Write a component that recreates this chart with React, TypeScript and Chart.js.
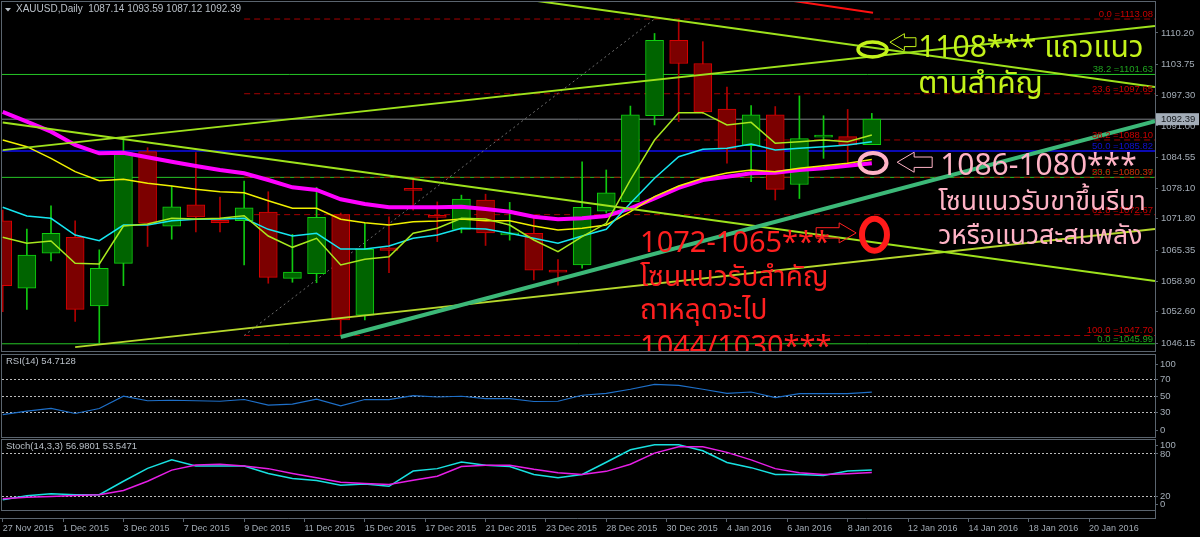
import React, { useEffect, useRef } from 'react';
import { Chart, registerables } from 'chart.js';

Chart.register(...registerables);

// ---------------- DATA ----------------
const symbolTitle = 'XAUUSD,Daily';
const lastBarOHLC = [1087.14, 1093.59, 1087.12, 1092.39];

const timeLabels = [
  '27 Nov 2015', '1 Dec 2015', '3 Dec 2015', '7 Dec 2015', '9 Dec 2015', '11 Dec 2015',
  '15 Dec 2015', '17 Dec 2015', '21 Dec 2015', '23 Dec 2015', '28 Dec 2015', '30 Dec 2015',
  '4 Jan 2016', '6 Jan 2016', '8 Jan 2016', '12 Jan 2016', '14 Jan 2016', '18 Jan 2016', '20 Jan 2016',
];
const barsPerTimeLabel = 2.5;

const opens = [1071.4, 1057.5, 1064.7, 1068.0, 1053.8, 1062.6, 1085.7, 1070.3, 1074.7, 1071.5, 1071.4, 1073.2, 1059.5, 1060.5, 1072.7, 1051.9, 1065.8, 1077.9, 1072.3, 1069.6, 1075.7, 1068.5, 1068.8, 1061.0, 1062.3, 1073.4, 1075.3, 1093.1, 1108.7, 1103.9, 1094.5, 1086.9, 1093.3, 1078.9, 1088.7, 1088.8, 1087.14];
const highs = [1073.6, 1069.7, 1074.5, 1071.4, 1065.4, 1088.6, 1086.5, 1078.6, 1085.5, 1076.3, 1079.6, 1077.4, 1068.6, 1078.3, 1073.0, 1070.9, 1072.2, 1080.2, 1075.3, 1076.7, 1076.9, 1075.2, 1071.9, 1063.4, 1083.6, 1081.9, 1095.1, 1110.1, 1113.08, 1108.4, 1099.0, 1095.2, 1095.0, 1097.2, 1093.1, 1094.4, 1093.59];
const lows = [1052.6, 1053.1, 1063.1, 1050.6, 1046.1, 1058.0, 1066.1, 1067.6, 1069.1, 1069.1, 1062.3, 1058.5, 1058.7, 1058.6, 1047.7, 1050.9, 1060.7, 1073.6, 1067.1, 1068.9, 1066.3, 1067.4, 1059.2, 1058.1, 1061.6, 1073.0, 1075.0, 1091.2, 1091.9, 1093.5, 1083.3, 1079.5, 1075.7, 1076.0, 1084.3, 1083.3, 1087.12];
const closes = [1058.0, 1064.3, 1068.8, 1053.1, 1061.6, 1085.5, 1070.9, 1074.3, 1072.2, 1071.0, 1074.1, 1059.7, 1060.8, 1072.1, 1050.9, 1065.5, 1065.3, 1077.7, 1072.1, 1075.9, 1068.9, 1068.7, 1061.2, 1060.8, 1074.2, 1077.2, 1093.3, 1108.7, 1103.9, 1093.9, 1086.2, 1093.3, 1077.9, 1088.4, 1088.9, 1087.1, 1092.39];

const maFast = [1068.0, 1066.75, 1067.22, 1062.62, 1062.47, 1070.32, 1070.74, 1071.91, 1071.77, 1071.91, 1072.45, 1068.26, 1065.92, 1067.78, 1062.27, 1063.44, 1063.98, 1068.82, 1069.85, 1071.91, 1071.77, 1070.53, 1067.43, 1065.01, 1068.11, 1070.88, 1079.83, 1088.09, 1093.73, 1093.73, 1091.19, 1091.74, 1087.41, 1087.74, 1088.09, 1087.74, 1089.13];
const maCyan = [1074.19, 1072.39, 1071.91, 1068.46, 1067.29, 1070.53, 1070.53, 1071.42, 1071.71, 1071.77, 1071.91, 1069.64, 1068.26, 1068.82, 1065.57, 1065.57, 1066.19, 1067.78, 1068.46, 1069.85, 1069.70, 1068.82, 1067.78, 1066.75, 1068.26, 1069.64, 1075.02, 1080.18, 1084.64, 1086.17, 1086.38, 1087.27, 1086.03, 1086.38, 1086.71, 1087.06, 1087.74];
const maYellow = [1088.09, 1086.71, 1084.31, 1081.55, 1079.69, 1079.97, 1079.15, 1078.59, 1077.91, 1077.41, 1077.21, 1075.55, 1073.98, 1073.98, 1071.71, 1071.01, 1070.53, 1071.21, 1071.36, 1071.77, 1071.42, 1071.42, 1070.32, 1069.50, 1069.85, 1070.53, 1073.28, 1076.38, 1078.59, 1080.18, 1081.28, 1081.90, 1081.54, 1082.25, 1082.78, 1083.28, 1084.06];
const maMagenta = [1093.88, 1091.87, 1089.81, 1087.06, 1085.34, 1085.47, 1084.52, 1083.61, 1082.72, 1081.89, 1081.21, 1079.83, 1078.32, 1077.76, 1075.84, 1074.87, 1074.19, 1074.19, 1074.19, 1074.31, 1073.84, 1073.28, 1072.25, 1071.71, 1071.92, 1072.39, 1073.98, 1076.05, 1078.18, 1079.83, 1080.51, 1081.21, 1081.34, 1081.89, 1082.25, 1082.78, 1083.28];

const rsiValues = [27.3, 31.5, 34.8, 28.7, 34.8, 49.7, 44.2, 44.8, 44.2, 43.6, 45.7, 38.8, 40.0, 46.1, 37.9, 45.7, 45.7, 50.5, 48.8, 49.7, 46.9, 46.9, 43.3, 43.6, 50.9, 53.3, 58.2, 64.2, 63.0, 58.2, 53.3, 54.9, 48.1, 53.0, 53.0, 53.0, 54.7128];
const stochMain = [14.5, 20.3, 23.2, 21.8, 21.8, 41.1, 59.5, 71.6, 62.8, 62.8, 62.8, 52.2, 45.0, 42.1, 35.3, 37.3, 33.8, 55.6, 59.1, 68.7, 63.9, 62.0, 50.8, 46.0, 50.8, 68.2, 86.1, 93.3, 93.3, 84.6, 67.8, 60.5, 50.8, 50.8, 49.3, 55.6, 56.9801];
const stochSignal = [16.0, 18.1, 19.3, 20.8, 21.8, 28.0, 41.1, 57.0, 64.3, 65.3, 62.8, 59.1, 52.2, 46.0, 39.6, 37.7, 36.3, 42.5, 48.3, 62.0, 63.9, 63.9, 58.1, 53.3, 50.8, 55.2, 65.3, 81.3, 90.4, 90.4, 82.3, 71.6, 59.1, 53.3, 50.8, 51.8, 53.5471];

const priceTicks = [1110.20, 1103.75, 1097.30, 1091.00, 1084.55, 1078.10, 1071.80, 1065.35, 1058.90, 1052.60, 1046.15];
const rsiLevels = [0, 30, 50, 70, 100];
const stochLevels = [0, 20, 80, 100];

// Fibonacci objects (ratio label, price)
const fibRedRatios = ['0.0', '23.6', '38.2', '50.0', '61.8', '100.0'];
const fibRedPrices = [1113.08, 1097.65, 1088.10, 1080.39, 1072.67, 1047.70];
const fibRedStartBar = 10;
const fibGreenRatios = ['38.2', '23.6', '0.0'];
const fibGreenPrices = [1101.63, 1080.37, 1045.99];
const fibBlueRatios = ['50.0'];
const fibBluePrices = [1085.82];
const fibDiagonal = [[10, 1047.70], [27, 1113.08]];

// trend lines: [bar, price] anchors
const trendChannelLow = [[0, 1091.7], [47.73, 1058.96]];
const trendChannelHigh = [[20, 1118.3], [47.73, 1099.04]];
const trendRising = [[0, 1086.0], [47.73, 1111.65]];
const trendSupportThin = [[3, 1045.3], [47.73, 1069.7]];
const trendSupportThick = [[14, 1047.4], [47.73, 1092.0]];
const trendRedShort = [[32.5, 1117.0], [36.05, 1114.4]];

// annotation texts: [text, bar, price]
const limeNotes = [['1108*** แถวแนว', 37.92, 1105.24], ['ตานสำคัญ', 37.92, 1097.8]];
const pinkNotes = [['1086-1080***', 38.83, 1080.86], ['โซนแนวรับขาขึ้นรีบา', 38.75, 1073.63], ['วหรือแนวสะสมพลัง', 38.75, 1066.61]];
const redNotes = [['1072-1065***', 26.4, 1064.95], ['โซนแนวรับสำคัญ', 26.4, 1057.93], ['ถาหลุดจะไป', 26.4, 1051.11], ['1044/1030***', 26.4, 1043.47]];
const ellipseMarks = [[36.03, 1106.79], [36.05, 1083.34], [36.11, 1068.53]];
const arrowMarks = [[36.75, 1108.3], [37.05, 1083.5], [35.35, 1068.9]];

// ---------------- HELPERS ----------------
const X_MIN = -0.03;
const X_MAX = 47.73;
const AXIS_W = 45;
const FRAME = '#5a646e';
const AXIS_TEXT = '#a3acb6';
const UI_FONT = "'Liberation Sans', Arial, sans-serif";
const NOTE_FONT = "Tahoma, 'Noto Sans Thai', 'Noto Sans', 'DejaVu Sans', sans-serif";

Chart.defaults.font.family = UI_FONT;

const pts = (arr: number[]) => arr.map((y, i) => ({ x: i, y }));
const seg = (a: number[][]) => a.map(([x, y]) => ({ x, y }));
const isBull = (i: number) => closes[i] >= opens[i];

const lineDs = (data: any[], color: string, width: number, order: number, extra: any = {}) => ({
  type: 'line', data, borderColor: color, borderWidth: width, pointRadius: 0, tension: 0, order, ...extra,
});

const framePlugin = {
  id: 'frame',
  beforeDraw(chart: any) {
    const { ctx, chartArea: a } = chart;
    ctx.save();
    ctx.strokeStyle = FRAME;
    ctx.lineWidth = 1;
    ctx.strokeRect(a.left - 0.5, a.top - 0.5, a.right - a.left + 1, a.bottom - a.top + 1);
    ctx.restore();
  },
};

const fitY = (scale: any) => {
  scale.width = AXIS_W;
  scale.paddingTop = 0;
  scale.paddingBottom = 0;
};

// level ticks: 100 and 0 are pulled inside the pane like the terminal does
const clampLevelTicks = (levels: number[], topShift: number, bottomShift: number) => (scale: any) => {
  scale.ticks = levels.map((v) => ({
    value: v >= 100 ? 100 - topShift : v <= 0 ? bottomShift : v,
    level: v,
    edge: v >= 100 || v <= 0,
  }));
};

const drawArrow = (ctx: any, tipX: number, tipY: number, dir: number, len: number, h: number, color: string) => {
  const hl = h * 0.85;
  const sh = h * 0.26;
  ctx.beginPath();
  ctx.moveTo(tipX, tipY);
  ctx.lineTo(tipX + dir * hl, tipY - h / 2);
  ctx.lineTo(tipX + dir * hl, tipY - sh);
  ctx.lineTo(tipX + dir * len, tipY - sh);
  ctx.lineTo(tipX + dir * len, tipY + sh);
  ctx.lineTo(tipX + dir * hl, tipY + sh);
  ctx.lineTo(tipX + dir * hl, tipY + h / 2);
  ctx.closePath();
  ctx.strokeStyle = color;
  ctx.lineWidth = 1;
  ctx.stroke();
};

const mainObjectsPlugin = {
  id: 'mt4objects',
  afterDatasetsDraw(chart: any) {
    const { ctx, chartArea: a, scales } = chart;
    const x = scales.x;
    const y = scales.y;
    ctx.save();
    ctx.beginPath();
    ctx.rect(a.left, a.top, a.right - a.left, a.bottom - a.top);
    ctx.clip();

    // fibonacci level labels
    ctx.font = `9.5px ${UI_FONT}`;
    ctx.textAlign = 'right';
    ctx.textBaseline = 'bottom';
    const lab = (ratios: string[], prices: number[], color: string) => {
      ctx.fillStyle = color;
      prices.forEach((p, i) => ctx.fillText(`${ratios[i]} =${p.toFixed(2)}`, a.right - 2, y.getPixelForValue(p)));
    };
    lab(fibGreenRatios, fibGreenPrices, '#1fa51f');
    lab(fibRedRatios, fibRedPrices, '#c80000');
    lab(fibBlueRatios, fibBluePrices, '#1010d0');

    // ellipses
    const ellStyle = [['#c4f31a', 14.5, 7.5, 3.5], ['#ffb3c6', 13.5, 10, 4], ['#ff1a1a', 12.5, 16, 6]];
    ellipseMarks.forEach(([b, p], i) => {
      const [c, rx, ry, w] = ellStyle[i] as any;
      ctx.beginPath();
      ctx.ellipse(x.getPixelForValue(b), y.getPixelForValue(p), rx, ry, 0, 0, Math.PI * 2);
      ctx.strokeStyle = c;
      ctx.lineWidth = w;
      ctx.stroke();
    });

    // hollow arrows
    const arrStyle = [[1, 26, 17, '#c4f31a'], [1, 35, 20, '#ffb3c6'], [-1, 40, 20, '#ff2020']];
    arrowMarks.forEach(([b, p], i) => {
      const [dir, len, h, c] = arrStyle[i] as any;
      drawArrow(ctx, x.getPixelForValue(b), y.getPixelForValue(p), dir, len, h, c);
    });

    // notes (first line of each block is the price zone, the rest Thai text)
    ctx.textAlign = 'left';
    ctx.textBaseline = 'alphabetic';
    const notes = (list: any[], color: string, sizes: number[]) => {
      ctx.fillStyle = color;
      list.forEach(([t, b, p], i) => {
        ctx.font = `${sizes[Math.min(i, sizes.length - 1)]}px ${NOTE_FONT}`;
        ctx.fillText(t, x.getPixelForValue(b), y.getPixelForValue(p));
      });
    };
    notes(limeNotes, '#c4f31a', [30]);
    notes(pinkNotes, '#ffb3c6', [30, 26.5]);
    notes(redNotes, '#ff2020', [29, 28, 28, 29]);
    ctx.restore();

    // title
    ctx.save();
    ctx.fillStyle = '#b9c0c8';
    ctx.beginPath();
    ctx.moveTo(5, 8); ctx.lineTo(11, 8); ctx.lineTo(8, 11.5); ctx.closePath(); ctx.fill();
    ctx.font = `10px ${UI_FONT}`;
    ctx.textAlign = 'left';
    ctx.textBaseline = 'top';
    ctx.fillText(`${symbolTitle}  ${lastBarOHLC.map((v) => v.toFixed(2)).join(' ')}`, 16, 4);
    ctx.restore();
  },
  afterDraw(chart: any) {
    const { ctx, chartArea: a, scales } = chart;
    const last = closes[closes.length - 1];
    const py = scales.y.getPixelForValue(last);
    ctx.save();
    ctx.fillStyle = '#a3adb8';
    ctx.fillRect(a.right + 1, py - 6, 1199 - a.right - 1, 12);
    ctx.fillStyle = '#14181c';
    ctx.font = `9.5px ${UI_FONT}`;
    ctx.textAlign = 'left';
    ctx.textBaseline = 'middle';
    ctx.fillText(last.toFixed(2), a.right + 6, py + 0.5);
    ctx.restore();
  },
};

const paneLabelPlugin = (text: string) => ({
  id: 'paneLabel',
  afterDatasetsDraw(chart: any) {
    const { ctx, chartArea: a } = chart;
    ctx.save();
    ctx.fillStyle = '#b9c0c8';
    ctx.font = `9.5px ${UI_FONT}`;
    ctx.textAlign = 'left';
    ctx.textBaseline = 'top';
    ctx.fillText(text, a.left + 4, a.top + 2);
    ctx.restore();
  },
});

const timeStripPlugin = {
  id: 'timeStrip',
  afterDraw(chart: any) {
    const { ctx, chartArea: a } = chart;
    ctx.save();
    ctx.strokeStyle = FRAME;
    ctx.lineWidth = 1;
    ctx.beginPath();
    ctx.moveTo(0, a.bottom + 8.5);
    ctx.lineTo(a.right + 0.5, a.bottom + 8.5);
    ctx.moveTo(a.right + 0.5, a.bottom);
    ctx.lineTo(a.right + 0.5, a.bottom + 9);
    ctx.stroke();
    ctx.restore();
  },
};

const hiddenX = () => ({ type: 'linear', min: X_MIN, max: X_MAX, display: false, offset: false });

const levelGrid = () => ({
  drawOnChartArea: true,
  drawTicks: true,
  tickLength: 3,
  tickColor: FRAME,
  color: (c: any) => (c.tick && !c.tick.edge ? 'rgba(220,220,220,0.85)' : 'rgba(0,0,0,0)'),
  lineWidth: 1,
});

const baseOpts = () => ({
  responsive: false,
  animation: false,
  events: [],
  plugins: { legend: { display: false }, tooltip: { enabled: false } },
});

// ---------------- COMPONENT ----------------
export default function App() {
  const mainRef = useRef<HTMLCanvasElement>(null);
  const rsiRef = useRef<HTMLCanvasElement>(null);
  const stochRef = useRef<HTMLCanvasElement>(null);

  useEffect(() => {
    const idx = opens.map((_, i) => i);
    const hl = (prices: number[], start: number, color: string, width: number, dash: number[] | undefined, order: number) =>
      prices.map((p) => lineDs([{ x: start, y: p }, { x: X_MAX + 1, y: p }], color, width, order, dash ? { borderDash: dash } : {}));

    const main = new Chart(mainRef.current as HTMLCanvasElement, {
      type: 'bar',
      data: {
        datasets: [
          lineDs([{ x: -1, y: lastBarOHLC[3] }, { x: X_MAX + 1, y: lastBarOHLC[3] }], '#7d8287', 1, 60),
          ...hl(fibGreenPrices, -1, '#26c626', 1, undefined, 58),
          ...hl(fibBluePrices, -1, '#0a0ab4', 2, undefined, 57),
          ...hl(fibRedPrices, fibRedStartBar, '#a50000', 1, [6, 4], 56),
          lineDs(seg(fibDiagonal), '#6e6e6e', 1, 55, { borderDash: [2, 3] }),
          {
            type: 'bar', label: 'wicks',
            data: lows.map((l, i) => ({ x: i, y: [l, highs[i]] })),
            backgroundColor: idx.map((i) => (isBull(i) ? '#10c810' : '#b00000')),
            borderWidth: 0, barThickness: 1, grouped: false, order: 51,
          },
          {
            type: 'bar', label: 'bodies',
            data: opens.map((o, i) => ({ x: i, y: [o, closes[i]] })),
            backgroundColor: idx.map((i) => (isBull(i) ? '#006400' : '#7c0000')),
            borderColor: idx.map((i) => (isBull(i) ? '#10d010' : '#d80000')),
            borderWidth: 1, borderSkipped: false, barThickness: 18, grouped: false, minBarLength: 2, order: 50,
          },
          lineDs(pts(maMagenta), '#ff00ff', 4, 14),
          lineDs(pts(maYellow), '#f0f000', 1.5, 13),
          lineDs(pts(maCyan), '#16e6f0', 1.5, 12),
          lineDs(pts(maFast), '#a8e81e', 1.5, 11),
          lineDs(seg(trendChannelLow), '#9ee21c', 2, 8),
          lineDs(seg(trendChannelHigh), '#9ee21c', 2, 8),
          lineDs(seg(trendRising), '#9ee21c', 2, 8),
          lineDs(seg(trendSupportThin), '#b6d82c', 2, 8),
          lineDs(seg(trendSupportThick), '#3cb878', 4, 7),
          lineDs(seg(trendRedShort), '#ff1010', 2, 6),
        ] as any,
      },
      options: {
        ...baseOpts(),
        layout: { padding: { left: 2, top: 2, right: 0, bottom: 2 } },
        scales: {
          x: hiddenX(),
          y: {
            type: 'linear', position: 'right', min: 1044.5, max: 1116.6,
            afterFit: fitY,
            afterBuildTicks: (s: any) => { s.ticks = priceTicks.map((v) => ({ value: v })); },
            grid: { drawOnChartArea: false, drawTicks: true, tickLength: 3, tickColor: FRAME },
            border: { display: true, color: FRAME },
            ticks: { color: AXIS_TEXT, font: { size: 9.5 }, padding: 3, autoSkip: false, callback: (v: any) => Number(v).toFixed(2) },
          },
        },
      } as any,
      plugins: [framePlugin, mainObjectsPlugin],
    });

    const rsi = new Chart(rsiRef.current as HTMLCanvasElement, {
      type: 'line',
      data: { datasets: [lineDs(pts(rsiValues), '#1e6fc8', 1.2, 1)] as any },
      options: {
        ...baseOpts(),
        layout: { padding: { left: 2, top: 14, right: 0, bottom: 1 } },
        scales: {
          x: hiddenX(),
          y: {
            type: 'linear', position: 'right', min: 0, max: 100,
            afterFit: fitY,
            afterBuildTicks: clampLevelTicks(rsiLevels, 12, 8),
            grid: levelGrid(),
            border: { display: true, color: FRAME, dash: [2, 2] },
            ticks: { display: true, color: AXIS_TEXT, font: { size: 9.5 }, padding: 2, autoSkip: false, callback: (_v: any, i: number) => String(rsiLevels[i]) },
          },
        },
      } as any,
      plugins: [framePlugin, paneLabelPlugin(`RSI(14) ${rsiValues[rsiValues.length - 1].toFixed(4)}`)],
    });

    const stoch = new Chart(stochRef.current as HTMLCanvasElement, {
      type: 'line',
      data: {
        datasets: [
          lineDs(pts(stochMain), '#18e0e0', 1.5, 2),
          lineDs(pts(stochSignal), '#e61ee6', 1.5, 1),
        ] as any,
      },
      options: {
        ...baseOpts(),
        layout: { padding: { left: 2, top: 2, right: 0, bottom: 0 } },
        scales: {
          x: {
            type: 'linear', min: X_MIN, max: X_MAX, offset: false,
            afterBuildTicks: (s: any) => { s.ticks = timeLabels.map((_, k) => ({ value: k * barsPerTimeLabel })); },
            afterFit: (s: any) => { s.height = 27; s.paddingLeft = 0; s.paddingRight = 0; },
            grid: { drawOnChartArea: false, drawTicks: true, tickLength: 12, tickColor: FRAME, tickBorderDash: [0, 9, 3, 40] },
            border: { display: false },
            ticks: {
              color: AXIS_TEXT, font: { size: 9 }, padding: 1, align: 'start', autoSkip: false, maxRotation: 0, minRotation: 0,
              callback: (_v: any, i: number) => timeLabels[i],
            },
          },
          y: {
            type: 'linear', position: 'right', min: 0, max: 100,
            afterFit: fitY,
            afterBuildTicks: clampLevelTicks(stochLevels, 8, 8),
            grid: levelGrid(),
            border: { display: true, color: FRAME, dash: [2, 2] },
            ticks: { color: AXIS_TEXT, font: { size: 9.5 }, padding: 2, autoSkip: false, callback: (_v: any, i: number) => String(stochLevels[i]) },
          },
        },
      } as any,
      plugins: [framePlugin, timeStripPlugin, paneLabelPlugin(`Stoch(14,3,3) ${stochMain[stochMain.length - 1].toFixed(4)} ${stochSignal[stochSignal.length - 1].toFixed(4)}`)],
    });

    return () => { main.destroy(); rsi.destroy(); stoch.destroy(); };
  }, []);

  const cv = (top: number, h: number): React.CSSProperties => ({ position: 'absolute', left: 0, top, width: 1200, height: h, display: 'block' });

  return (
    <div style={{ position: 'absolute', left: 0, top: 0, width: 1200, height: 537, background: '#000', overflow: 'hidden' }}>
      <canvas ref={mainRef} width={1200} height={353} style={cv(0, 353)} />
      <canvas ref={rsiRef} width={1200} height={97} style={cv(341, 97)} />
      <canvas ref={stochRef} width={1200} height={99} style={cv(438, 99)} />
    </div>
  );
}
